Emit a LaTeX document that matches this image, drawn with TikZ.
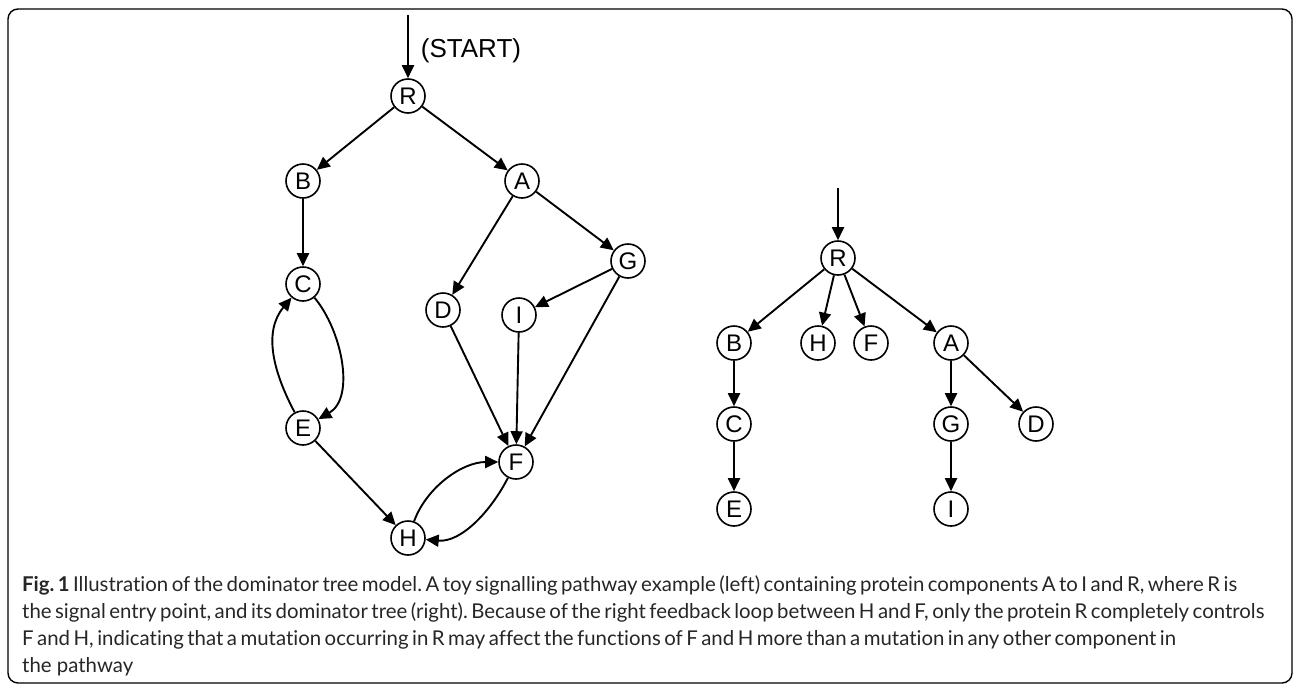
\documentclass[tikz,border=0pt]{standalone}
\usepackage{fontspec}
\setmainfont[Ligatures=NoCommon]{Lato}
\newfontfamily\nodefont{Liberation Sans}
\usetikzlibrary{arrows.meta}
\begin{document}
\frenchspacing
\begin{tikzpicture}[x=1pt,y=-1pt,
  vert/.style={circle,draw,line width=1.6pt,minimum size=34pt,inner sep=0pt,
    font=\nodefont\fontsize{24}{24}\selectfont},
  edge/.style={line width=1.9pt,-{Triangle[length=13pt,width=12pt]}},
  capline/.style={anchor=base west,inner sep=0pt,text=black!85,
    font=\fontsize{20.4}{24}\selectfont},
  frame/.style={line width=1.4pt,rounded corners=10pt}]
\useasboundingbox (0,0) rectangle (1295,686);
\draw[frame] (8,9) rectangle (1292,683);

% signalling pathway
\coordinate (in1) at (408,15);
\node[vert] (R)  at (408,96)  {R};
\node[vert] (B)  at (303,181) {B};
\node[vert] (A)  at (522,181) {A};
\node[vert] (C)  at (303,284) {C};
\node[vert] (G)  at (628,261) {G};
\node[vert] (D)  at (443,310) {D};
\node[vert] (I)  at (519,315) {I};
\node[vert] (E)  at (303,428) {E};
\node[vert] (F)  at (516,462) {F};
\node[vert] (H)  at (408,538) {H};
\node[font=\nodefont\fontsize{26}{26}\selectfont,inner sep=0pt] (start) at (471,51) {(START)};

\draw[edge] (in1) -- (R);
\draw[edge] (R) -- (B);
\draw[edge] (R) -- (A);
\draw[edge] (B) -- (C);
\draw[edge] (A) -- (D);
\draw[edge] (A) -- (G);
\draw[edge] (G) -- (I);
\draw[edge] (G) -- (F);
\draw[edge] (D) -- (F);
\draw[edge] (I) -- (F);
\draw[edge] (C) to[out=-50,in=30,looseness=0.9] (E);
\draw[edge] (E) to[out=118,in=-130,looseness=1.0] (C);
\draw[edge] (E) -- (H);
\draw[edge] (H) to[out=70,in=180,looseness=0.9] (F);
\draw[edge] (F) to[out=-117,in=-5,looseness=0.9] (H);

% dominator tree
\coordinate (in2) at (838,188);
\node[vert] (tR) at (838,258)  {R};
\node[vert] (tB) at (734,343)  {B};
\node[vert] (tH) at (818,343)  {H};
\node[vert] (tF) at (871,343)  {F};
\node[vert] (tA) at (951,343)  {A};
\node[vert] (tC) at (734,424)  {C};
\node[vert] (tG) at (951,424)  {G};
\node[vert] (tD) at (1036,424) {D};
\node[vert] (tE) at (734,509)  {E};
\node[vert] (tI) at (951,509)  {I};

\draw[edge] (in2) -- (tR);
\draw[edge] (tR) -- (tB);
\draw[edge] (tR) -- (tH);
\draw[edge] (tR) -- (tF);
\draw[edge] (tR) -- (tA);
\draw[edge] (tB) -- (tC);
\draw[edge] (tC) -- (tE);
\draw[edge] (tA) -- (tG);
\draw[edge] (tA) -- (tD);
\draw[edge] (tG) -- (tI);

% caption
\node[capline] (cap1) at (22,591) {\makebox[1120pt][s]{\textbf{Fig. 1} Illustration of the dominator tree model. A toy signalling pathway example (left) containing protein components A to I and R, where R is}};
\node[capline] (cap2) at (22,618) {\makebox[1136pt][s]{the signal entry point, and its dominator tree (right). Because of the right feedback loop between H and F, only the protein R completely controls}};
\node[capline] (cap3) at (22,645) {\makebox[1075pt][s]{F and H, indicating that a mutation occurring in R may affect the functions of F and H more than a mutation in any other component in}};
\node[capline] (cap4) at (22,672) {the pathway};
\end{tikzpicture}
\end{document}
